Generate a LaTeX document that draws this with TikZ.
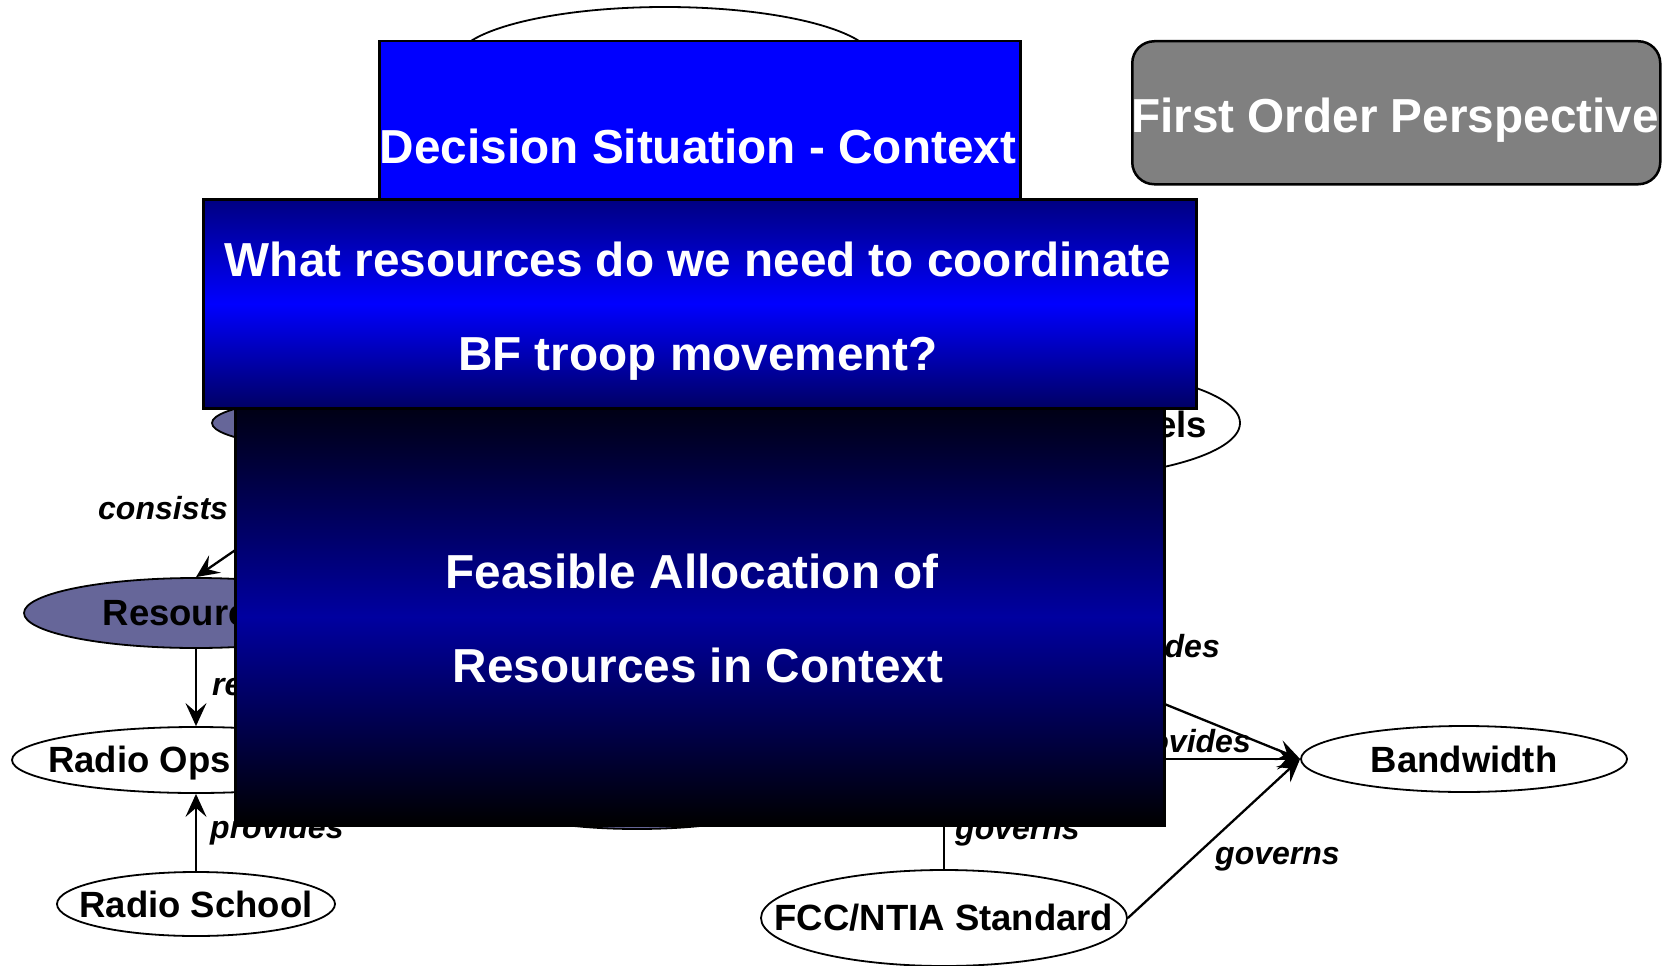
\documentclass[tikz,border=0pt]{standalone}
\usepackage{fontspec}
\setmainfont{Liberation Sans}
\usetikzlibrary{shapes.geometric,arrows.meta}
\definecolor{purp}{HTML}{666699}
\definecolor{boxgray}{HTML}{808080}
\definecolor{pureblue}{rgb}{0,0,1}
\begin{document}
\begin{tikzpicture}[x=1pt,y=-1pt,
  ell/.style={ellipse, draw=black, line width=1.8pt, inner sep=0pt, fill=white,
    font=\fontsize{36.5}{40}\selectfont\bfseries},
  txt/.style={inner sep=0pt, font=\fontsize{36.5}{40}\selectfont\bfseries},
  lbl/.style={inner sep=0pt, font=\fontsize{32}{36}\selectfont\bfseries\itshape},
  conn/.style={line width=2.3pt, -{Stealth[length=23pt,width=21pt,inset=9pt]}},
  bigbox/.style={draw=black, line width=2.5pt, inner sep=0pt, anchor=north west},
  wt/.style={inner sep=0pt, text=white, font=\fontsize{47.7}{52}\selectfont\bfseries}]
\useasboundingbox (0,0) rectangle (1676,966);
\fill[white] (0,0) rectangle (1676,966);

% ellipses (partly hidden)
\node[ell, minimum width=420, minimum height=110] (top) at (665,62) {};
\node[ell, fill=purp, minimum width=416, minimum height=62] (lp) at (420,423) {};
\node[ell, minimum width=400, minimum height=112] (chan) at (1040,423) {};
\node[txt, anchor=base east] (chant) at (1207,437) {Channels};
\node[ell, fill=purp, minimum width=302, minimum height=66] (bc) at (637,796) {};
\node[ell, fill=purp, minimum width=344, minimum height=70] (res) at (196,613) {\makebox[0pt]{Resources}};
\node[ell, minimum width=368, minimum height=66] (ops) at (196,760) {};
\node[txt, anchor=base west] (opst) at (48,772) {Radio Ops};
\node[ell, minimum width=278, minimum height=64] (school) at (196,904) {\makebox[0pt]{Radio School}};
\node[ell, minimum width=326, minimum height=66] (bw) at (1464,759) {\makebox[0pt]{Bandwidth}};
\node[ell, minimum width=366, minimum height=96] (fcc) at (944,918) {\makebox[0pt]{FCC/NTIA Standard}};

% hidden connector ends
\coordinate (srcA) at (950,617);
\coordinate (srcB) at (950,759);
\coordinate (srcC) at (944,700);

% connectors
\draw[conn] (lp) -- (res.north);
\draw[conn] (res) -- (ops);
\draw[conn] (school) -- (ops);
\draw[conn] (srcA) -- (bw.west);
\draw[conn] (srcB) -- (bw.west);
\draw[conn] (fcc.east) -- (bw.west);
\draw[conn] (fcc) -- (srcC);

% connector labels
\node[lbl, anchor=base west] (l1) at (98,519) {consists};
\node[lbl, anchor=base west] (l2) at (212,695) {requires};
\node[lbl, anchor=base west] (l3) at (210,838) {provides};
\node[lbl, anchor=base west] (l4) at (955,839) {governs};
\node[lbl, anchor=base west] (l5) at (1215,864) {governs};
\node[lbl, anchor=base east] (l6) at (1220,657) {provides};
\node[lbl, anchor=base east] (l7) at (1251,752) {provides};

% overlay boxes
\node[bigbox, fill=pureblue, minimum width=641, minimum height=159] (dec) at (378,40) {};
\node[wt, anchor=base] (dect) at (698,163) {Decision Situation - Context};

\node[bigbox, top color={rgb,255:red,0;green,0;blue,130}, bottom color={rgb,255:red,0;green,0;blue,100},
  middle color={rgb,255:red,0;green,0;blue,255}, minimum width=993, minimum height=209] (what) at (202,198) {};
\node[wt, anchor=base] (what1) at (698,276) {What resources do we need to coordinate};
\node[wt, anchor=base] (what2) at (698,370) {BF troop movement?};

\node[bigbox, top color={rgb,255:red,0;green,0;blue,20}, bottom color=black,
  middle color={rgb,255:red,0;green,0;blue,160}, minimum width=929, minimum height=417] (feas) at (234,407) {};
\node[wt, anchor=base] (feas1) at (692,588) {Feasible Allocation of};
\node[wt, anchor=base] (feas2) at (698,682) {Resources in Context};

\node[bigbox, fill=boxgray, rounded corners=22pt, minimum width=528, minimum height=143] (first) at (1131,40) {};
\node[wt, anchor=base] (firstt) at (1395,132) {First Order Perspective};
\end{tikzpicture}
\end{document}
